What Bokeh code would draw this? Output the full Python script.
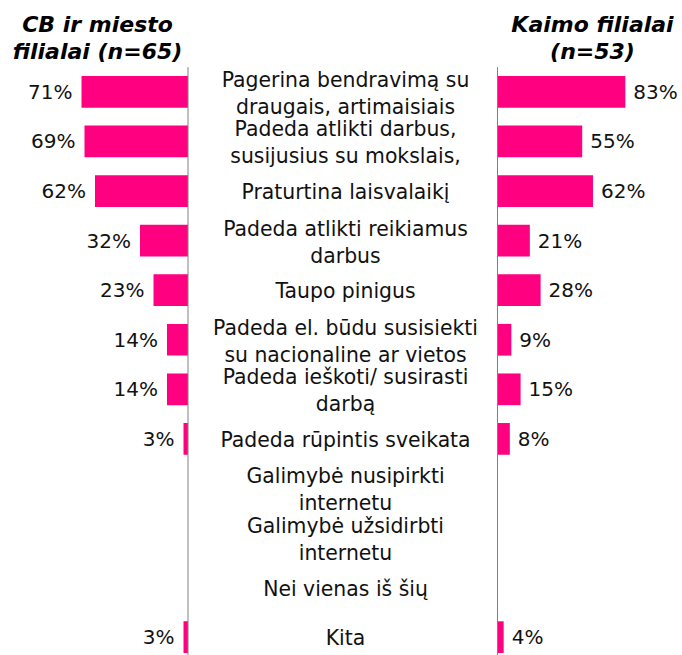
from bokeh.plotting import figure
from bokeh.models import Range1d, ColumnDataSource
from bokeh.core.properties import value
from bokeh.embed import file_html
from bokeh.resources import INLINE

# ---------------- data ----------------
categories = [
    "Pagerina bendravimą su\ndraugais, artimaisiais",
    "Padeda atlikti darbus,\nsusijusius su mokslais,",
    "Praturtina laisvalaikį",
    "Padeda atlikti reikiamus\ndarbus",
    "Taupo pinigus",
    "Padeda el. būdu susisiekti\nsu nacionaline ar vietos",
    "Padeda ieškoti/ susirasti\ndarbą",
    "Padeda rūpintis sveikata",
    "Galimybė nusipirkti\ninternetu",
    "Galimybė užsidirbti\ninternetu",
    "Nei vienas iš šių",
    "Kita",
]
city_pct = [71, 69, 62, 32, 23, 14, 14, 3, None, None, None, 3]
rural_pct = [83, 55, 62, 21, 28, 9, 15, 8, None, None, None, 4]
city_title = ["CB ir miesto", "filialai (n=65)"]
rural_title = ["Kaimo filialai", "(n=53)"]

# ---------------- layout constants ----------------
W, H = 682, 655
ROW_PX = 49.57
ROW1_PX = 91.4
L_ZERO, L_SCALE = 187.5, 1.50
R_ZERO, R_SCALE = 497.0, 1.54
MID_X = 345
PINK = "#FF0080"
FONT = "DejaVu Sans"
AXIS_GRAY = "#808080"

top_val = 1 - ROW1_PX / ROW_PX
bot_val = 1 + (H - ROW1_PX) / ROW_PX


def py(px):
    return top_val + px / ROW_PX


p = figure(width=W, height=H, x_range=Range1d(0, W), y_range=Range1d(bot_val, top_val),
           output_backend="svg", toolbar_location=None, min_border=0,
           x_axis_location=None, y_axis_location=None, outline_line_color=None,
           background_fill_color="white", border_fill_color="white")
p.grid.visible = False
p.extra_x_ranges = {
    "L": Range1d(L_ZERO / L_SCALE, (L_ZERO - W) / L_SCALE),
    "R": Range1d(-R_ZERO / R_SCALE, (W - R_ZERO) / R_SCALE),
}

rows = list(range(1, len(categories) + 1))


def make_src(vals):
    ys, vs, ls = [], [], []
    for r, v in zip(rows, vals):
        if v is None:
            continue
        ys.append(r)
        vs.append(v)
        ls.append(f"{v}%")
    return ColumnDataSource(dict(y=ys, v=vs, lbl=ls))


left_src = make_src(city_pct)
right_src = make_src(rural_pct)

p.hbar(y="y", left=0, right="v", height=0.64, source=left_src, x_range_name="L",
       fill_color=PINK, line_color=None)
p.hbar(y="y", left=0, right="v", height=0.64, source=right_src, x_range_name="R",
       fill_color=PINK, line_color=None)

p.text(x="v", y="y", text="lbl", source=left_src, x_range_name="L", text_align="right",
       text_baseline="middle", x_offset=-9, text_font=value(FONT), text_font_size="20px",
       text_color="#111111")
p.text(x="v", y="y", text="lbl", source=right_src, x_range_name="R", text_align="left",
       text_baseline="middle", x_offset=8, text_font=value(FONT), text_font_size="20px",
       text_color="#111111")

# axis lines
n = len(categories)
p.segment(x0=[0], x1=[0], y0=[0.5], y1=[n + 0.5], x_range_name="L", line_color=AXIS_GRAY, line_width=1)
p.segment(x0=[0], x1=[0], y0=[0.5], y1=[n + 0.5], x_range_name="R", line_color=AXIS_GRAY, line_width=1)

# category labels
cx, cy, ct, co = [], [], [], []
for r, cat in zip(rows, categories):
    lines = cat.split("\n")
    offs = [-12, 15] if len(lines) == 2 else [1]
    for ln, o in zip(lines, offs):
        cx.append(MID_X)
        cy.append(r)
        ct.append(ln)
        co.append(o)
cat_src = ColumnDataSource(dict(x=cx, y=cy, t=ct, o=co))
p.text(x="x", y="y", text="t", y_offset="o", source=cat_src, text_align="center",
       text_baseline="middle", text_font=value(FONT), text_font_size="20.4px", text_color="#111111")

# titles
for x_c, lines in ((97, city_title), (592, rural_title)):
    p.text(x=[x_c, x_c], y=[py(24), py(51)], text=lines, text_align="center",
           text_baseline="middle", text_font=value(FONT), text_font_size="22px",
           text_font_style="bold italic", text_color="black")

open("out.html", "w").write(file_html(p, INLINE))
